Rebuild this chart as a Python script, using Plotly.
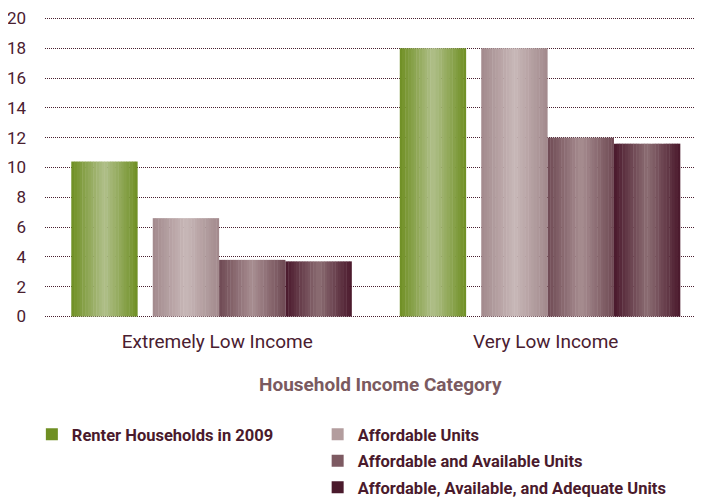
import plotly.graph_objects as go

categories = ["Extremely Low Income", "Very Low Income"]
series_names = ["Renter Households in 2009", "Affordable Units",
                "Affordable and Available Units", "Affordable, Available, and Adequate Units"]
renter = [10.4, 18.0]
affordable = [6.6, 18.0]
aff_avail = [3.8, 12.0]
aff_avail_adequate = [3.7, 11.6]
y_ticks = [0, 2, 4, 6, 8, 10, 12, 14, 16, 18, 20]

series_values = [renter, affordable, aff_avail, aff_avail_adequate]
edge_colors = [(0x6f, 0x8f, 0x23), (0xa3, 0x8a, 0x8d), (0x6f, 0x4a, 0x54), (0x4a, 0x18, 0x2c)]
mid_colors = [(0xb0, 0xc0, 0x8a), (0xc8, 0xb8, 0xb8), (0xa8, 0x8e, 0x91), (0x8c, 0x6e, 0x73)]
legend_colors = ["#6f8f23", "#b39d9e", "#7d5a62", "#4a1a2c"]
bar_w = 0.202
offsets = [-0.42, -0.172, 0.030, 0.232]

fig = go.Figure()
N = 24
for s in range(4):
    for k in range(N):
        t = (k + 0.5) / N
        f = 1 - abs(2 * t - 1)
        c = tuple(int(edge_colors[s][i] + (mid_colors[s][i] - edge_colors[s][i]) * f) for i in range(3))
        fig.add_trace(go.Bar(
            x=categories, y=series_values[s],
            width=bar_w / N * 1.15 if k < N - 1 else bar_w / N,
            offset=offsets[s] + k * bar_w / N,
            marker=dict(color="rgb(%d,%d,%d)" % c, line=dict(width=0)),
            showlegend=False, hoverinfo="skip",
        ))
    fig.add_trace(go.Bar(
        x=categories, y=[None, None], name=series_names[s],
        marker=dict(color=legend_colors[s], line=dict(width=0)),
        showlegend=True, legend="legend" if s == 0 else "legend2",
        legendgroup="g%d" % s,
    ))

font_family = "Roboto, sans-serif"
fig.update_layout(
    width=702, height=500,
    margin=dict(l=37, r=8, t=5.5, b=189.5, autoexpand=False),
    barmode="overlay",
    plot_bgcolor="white", paper_bgcolor="white",
    font=dict(family=font_family, color="#4a2030"),
    xaxis=dict(range=[-0.5, 1.5], showgrid=False, zeroline=False, showline=False,
               ticks="", automargin=False, ticklabelstandoff=10, ticklabelshift=8,
               tickfont=dict(size=19, color="#4a2030")),
    yaxis=dict(range=[-0.1, 20.3], tickvals=y_ticks, showgrid=True, gridcolor="#4a2030",
               griddash="1px,1px", gridwidth=1, zeroline=False, showline=False, automargin=False,
               ticklabelstandoff=18, tickfont=dict(size=17, color="#4a2030")),
    showlegend=True,
    legend=dict(x=-0.02, y=-0.326, xanchor="left", yanchor="top",
                font=dict(size=16.5, color="#4a1a2c", family=font_family, weight="bold"),
                bgcolor="rgba(0,0,0,0)", itemwidth=30),
    legend2=dict(x=0.415, y=-0.326, xanchor="left", yanchor="top",
                 font=dict(size=16.5, color="#4a1a2c", family=font_family, weight="bold"),
                 bgcolor="rgba(0,0,0,0)", tracegroupgap=2, itemwidth=30),
    annotations=[dict(text="<b>Household Income Category</b>", x=0.511, y=-0.218,
                      xref="paper", yref="paper", xanchor="center", yanchor="middle",
                      showarrow=False, font=dict(size=19, color="#7a5a60", family=font_family))],
)

fig.write_html("out.html")
